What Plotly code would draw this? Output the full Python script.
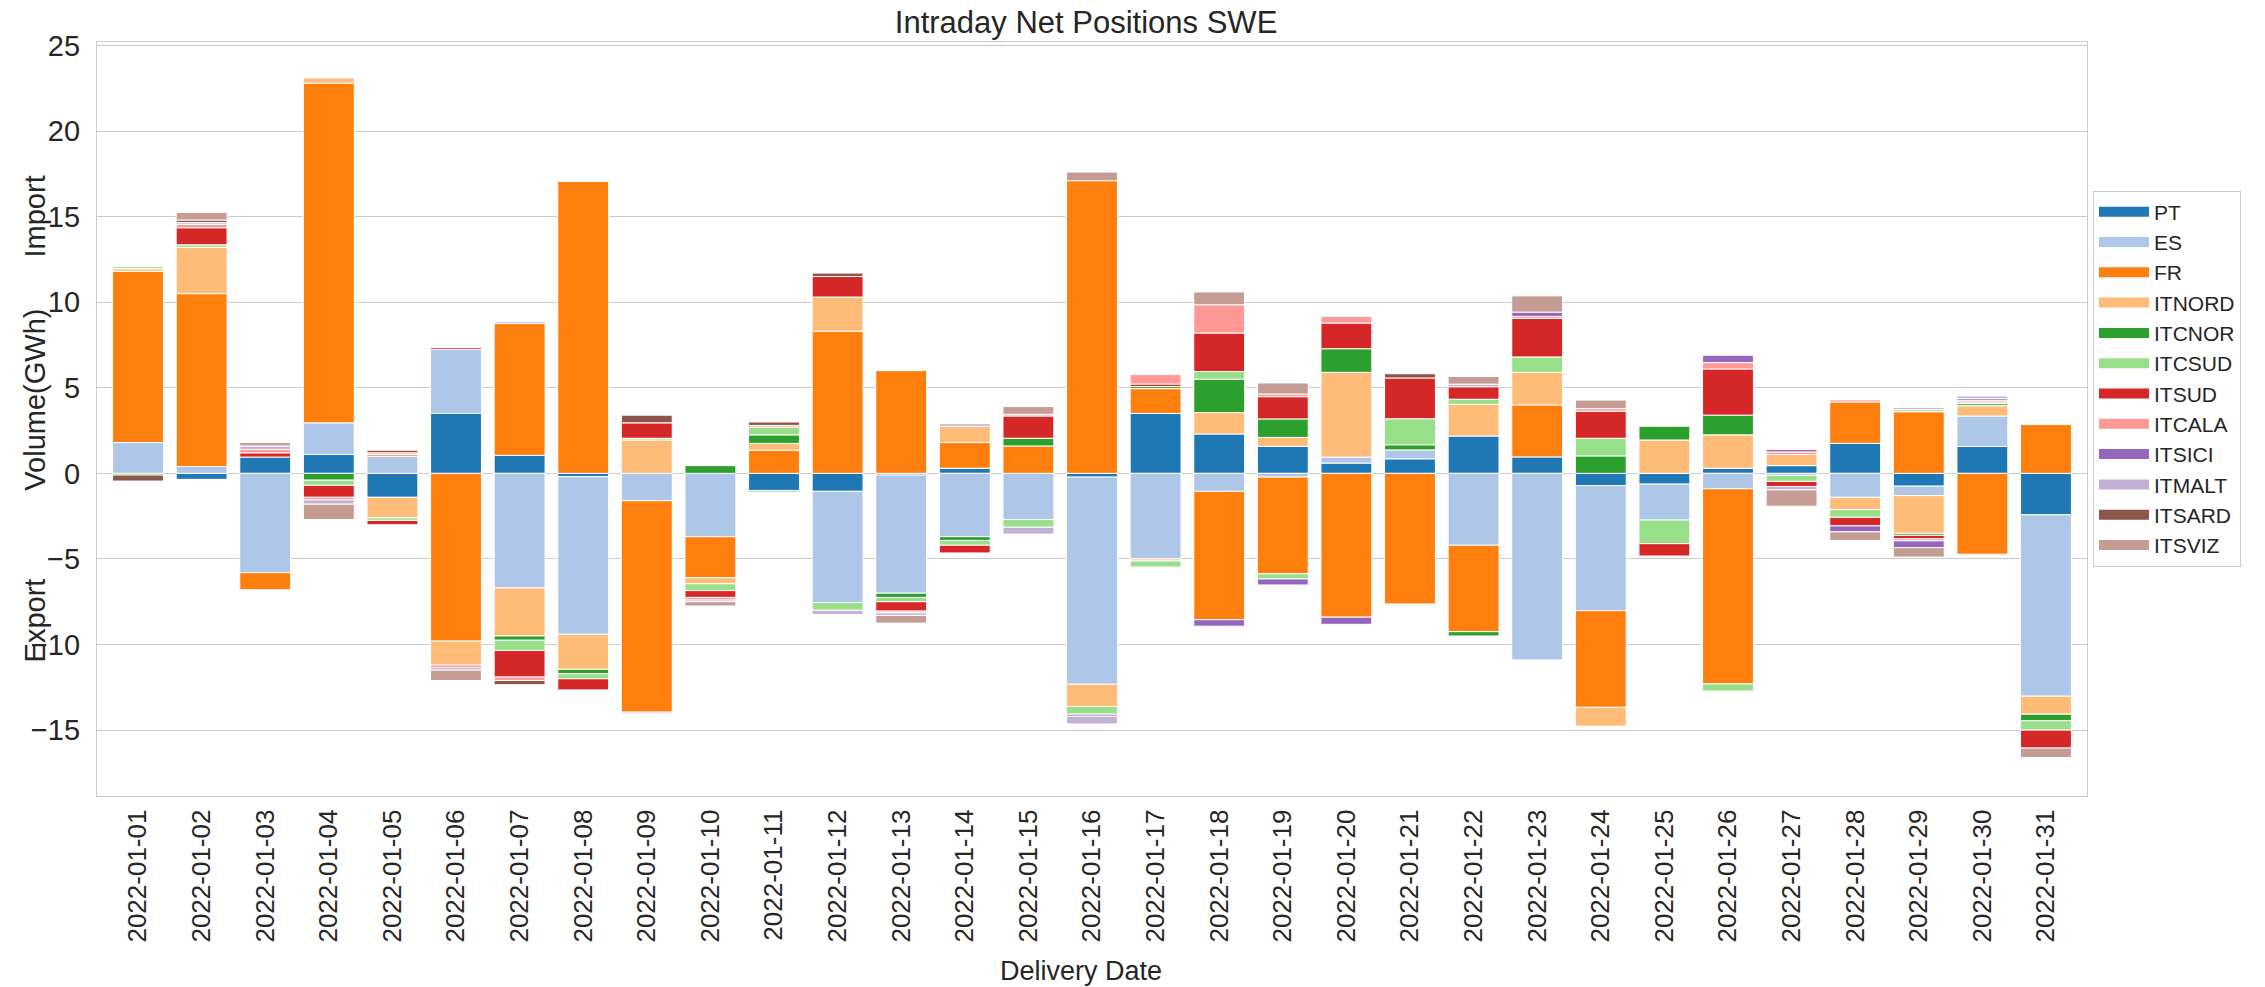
import plotly.graph_objects as go

dates = ["2022-01-%02d" % d for d in range(1, 32)]

zones = ["PT", "ES", "FR", "ITNORD", "ITCNOR", "ITCSUD", "ITSUD",
         "ITCALA", "ITSICI", "ITMALT", "ITSARD", "ITSVIZ"]
colors = ["#1f77b4", "#aec7e8", "#ff7f0e", "#ffbb78", "#2ca02c", "#98df8a",
          "#d62728", "#ff9896", "#9467bd", "#c5b0d5", "#8c564b", "#c49c94"]

PT = [0, -0.35, 0.95, 1.1, -1.4, 3.5, 1.05, -0.2, 0, 0, -1.0, -1.05, -0.1, 0.3, 0, -0.22,
      3.5, 2.3, 1.58, 0.6, 0.85, 2.18, 0.96, -0.72, -0.63, 0.3, 0.45, 1.75, -0.75, 1.57, -2.42]
ES = [1.8, 0.4, -5.8, 1.85, 1.0, 3.75, -6.7, -9.2, -1.6, -3.7, -0.1, -6.5, -6.9, -3.7, -2.7, -12.1,
      -5.0, -1.05, -0.22, 0.35, 0.52, -4.2, -10.9, -7.3, -2.1, -0.9, -0.12, -1.4, -0.55, 1.78, -10.6]
FR = [10.0, 10.1, -1.0, 19.85, 0.1, -9.8, 7.7, 17.05, -12.35, -2.4, 1.35, 8.3, 6.0, 1.5, 1.6, 17.1,
      1.45, -7.5, -5.65, -8.4, -7.63, -5.05, 3.04, -5.65, 0, -11.4, 0, 2.42, 3.6, -4.72, 2.85]
ITNORD = [0.15, 2.7, 0, 0.3, -1.2, -1.4, -2.8, -2.05, 1.95, -0.35, 0.4, 2.0, 0, 0.95, 0, -1.3,
          -0.12, 1.25, 0.52, 4.95, 0, 1.85, 1.9, -1.1, 1.95, 1.95, 0.65, -0.72, -2.2, 0.6, -1.05]
ITCNOR = [-0.1, 0, 0, -0.4, 0, 0, -0.25, -0.25, 0, 0.45, 0.5, 0, -0.25, -0.22, 0.45, 0,
          0.12, 1.95, 1.08, 1.38, 0.3, -0.25, 0, 1.02, 0.8, 1.15, 0, 0, -0.12, 0.12, -0.38]
ITCSUD = [0.12, 0.15, 0, -0.3, -0.15, 0, -0.6, -0.3, 0.1, -0.4, 0.45, -0.45, -0.25, -0.28, -0.45, -0.45,
          -0.35, 0.45, -0.3, 0, 1.52, 0.3, 0.9, 1.03, -1.38, -0.42, -0.35, -0.45, 0.12, 0.1, -0.55]
ITSUD = [0, 1.0, 0.25, -0.7, -0.25, 0.1, -1.55, -0.65, 0.9, -0.4, 0, 1.2, -0.55, -0.45, 1.3, 0,
         0.15, 2.25, 1.3, 1.5, 2.38, 0.73, 2.25, 1.58, -0.72, 2.7, -0.3, -0.5, -0.2, 0, -1.05]
ITCALA = [0, 0.2, 0.2, -0.15, 0.1, -0.15, -0.2, 0, 0, -0.15, 0.1, 0, -0.1, 0, 0.1, 0,
          0.55, 1.65, 0.15, 0.38, 0, 0, 0.12, 0.15, 0, 0.37, 0.15, 0.12, -0.12, 0.1, 0]
ITSICI = [0, 0, 0, 0, 0, 0, 0, 0, 0, 0, 0, 0, 0, 0, 0, -0.12,
          0, -0.38, -0.35, -0.42, 0, 0, 0.25, 0, 0, 0.43, 0.15, -0.35, -0.4, 0.1, 0]
ITMALT = [0, 0.1, 0.2, -0.25, 0, -0.15, 0.1, 0, -0.1, -0.1, 0, -0.25, -0.15, 0.15, -0.4, -0.45,
          0, 0, 0, 0, 0, 0.15, 0, 0, 0, 0, -0.2, 0, 0.12, 0.15, 0]
ITSARD = [-0.35, 0.15, 0, 0, 0.15, 0, -0.25, 0, 0.45, 0, 0.2, 0.2, 0, 0, 0, 0,
          0, 0, 0, 0, 0.25, 0, 0, 0, 0, 0, 0, 0, 0, 0, 0]
ITSVIZ = [0, 0.45, 0.2, -0.9, 0, -0.6, 0, 0, 0, -0.25, 0, 0, -0.45, 0, 0.45, 0.5,
          0, 0.75, 0.65, 0, 0, 0.45, 0.95, 0.5, 0, 0, -0.95, -0.5, -0.55, 0, -0.55]

series = [PT, ES, FR, ITNORD, ITCNOR, ITCSUD, ITSUD, ITCALA, ITSICI, ITMALT, ITSARD, ITSVIZ]

FONT = "Liberation Sans, Arial, sans-serif"
TXT = "#262626"

fig = go.Figure()
for name, vals, col in zip(zones, series, colors):
    fig.add_trace(go.Bar(
        x=dates, y=[v if v != 0 else None for v in vals], name=name,
        marker=dict(color=col, line=dict(color="white", width=1)),
        showlegend=False,
    ))
# legend entries drawn as wide colour swatches
for name, col in zip(zones, colors):
    fig.add_trace(go.Scatter(
        x=[None], y=[None], name=name, mode="lines",
        line=dict(color=col, width=15), showlegend=True, hoverinfo="skip",
    ))

fig.update_layout(
    width=2265, height=987,
    barmode="relative", bargap=0.2,
    plot_bgcolor="white", paper_bgcolor="white",
    margin=dict(l=97, r=178, t=42, b=191, autoexpand=False),
    font=dict(family=FONT, color=TXT, size=26),
    title=dict(text="Intraday Net Positions SWE", x=0.4795, xref="container",
               xanchor="center", y=1 - 22 / 987, yanchor="middle",
               font=dict(size=31, color=TXT, family=FONT)),
    legend=dict(x=1.003, xanchor="left", y=0.803, yanchor="top",
                traceorder="normal", itemwidth=50,
                bgcolor="white", bordercolor="#cccccc", borderwidth=1,
                font=dict(size=21, color=TXT, family=FONT)),
    showlegend=True,
)
fig.update_xaxes(type="category", range=[-0.645, 30.645], tickangle=-90,
                 showgrid=False, showline=True, mirror=True, linecolor="#cccccc",
                 linewidth=1.3, ticks="", tickfont=dict(size=26), ticklabelstandoff=2)
fig.update_yaxes(range=[-18.85, 25.2], dtick=5, tick0=0, showgrid=True,
                 gridcolor="#cccccc", gridwidth=1.2, zeroline=False,
                 showline=True, mirror=True, linecolor="#cccccc", linewidth=1.3,
                 ticks="", tickfont=dict(size=29), ticklabelstandoff=10)

for txt, yv in [("Import", 15.0), ("Volume(GWh)", 4.3), ("Export", -8.6)]:
    fig.add_annotation(text=txt, x=-0.0312, xref="paper", y=yv, yref="y",
                       xanchor="center", yanchor="middle", textangle=-90,
                       showarrow=False, font=dict(size=29, color=TXT, family=FONT))
fig.add_annotation(text="Delivery Date", x=0.4945, xref="paper",
                   y=(796 - 971) / 754, yref="paper", xanchor="center",
                   yanchor="middle", showarrow=False,
                   font=dict(size=27, color=TXT, family=FONT))

fig.write_html("out.html", config={"displayModeBar": False})

# remove the default page margin so the figure sits at the window's top-left corner
with open("out.html", "r", encoding="utf-8") as f:
    html = f.read()
html = html.replace("<head>", "<head><style>html,body{margin:0;padding:0;}</style>", 1)
with open("out.html", "w", encoding="utf-8") as f:
    f.write(html)
